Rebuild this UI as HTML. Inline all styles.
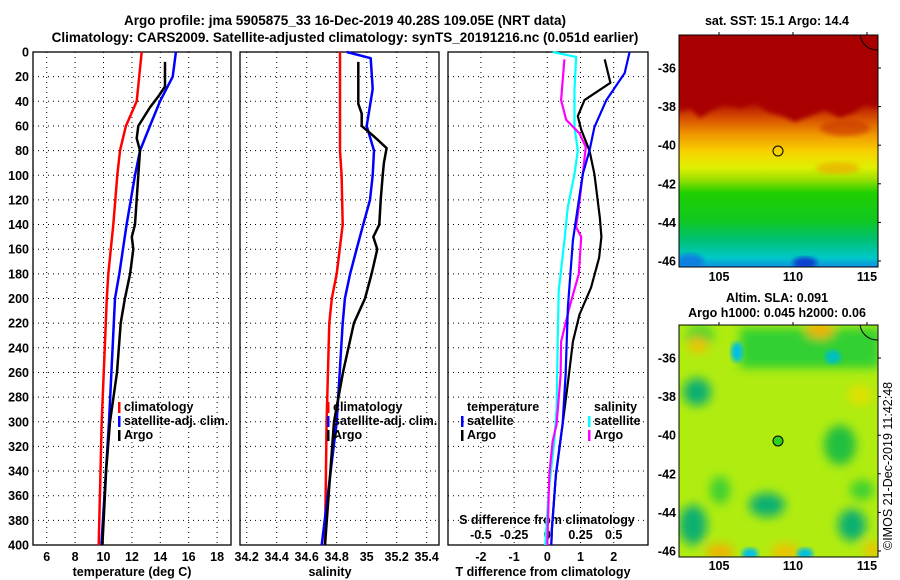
<!DOCTYPE html>
<html><head><meta charset="utf-8"><style>
html,body{margin:0;padding:0;background:#fff;}
svg{display:block;font-family:"Liberation Sans",sans-serif;font-weight:bold;font-size:12.5px;}
</style></head><body>
<svg id="chart" width="900" height="580" viewBox="0 0 900 580" xmlns="http://www.w3.org/2000/svg">
<defs>
<filter id="blur4" x="-50%" y="-50%" width="200%" height="200%"><feGaussianBlur stdDeviation="5"/></filter>
<filter id="blur2"><feGaussianBlur stdDeviation="2.5"/></filter>
<clipPath id="clipTop"><rect x="679" y="35" width="199" height="232"/></clipPath>
<clipPath id="clipBot"><rect x="679" y="325" width="199" height="232"/></clipPath>
<linearGradient id="sstGrad" x1="0" y1="0" x2="0" y2="1">
<stop offset="0" stop-color="#a80000"/><stop offset="0.28" stop-color="#a80000"/>
<stop offset="0.36" stop-color="#d85000"/><stop offset="0.43" stop-color="#f09800"/>
<stop offset="0.5" stop-color="#f8d000"/><stop offset="0.57" stop-color="#e0f000"/>
<stop offset="0.62" stop-color="#a0e000"/><stop offset="0.68" stop-color="#20d000"/>
<stop offset="0.8" stop-color="#10c820"/><stop offset="0.88" stop-color="#00c070"/>
<stop offset="0.96" stop-color="#00c8c8"/><stop offset="1" stop-color="#1090e0"/>
</linearGradient>
</defs>
<g>
<text x="345" y="25" text-anchor="middle" font-size="13.5">Argo profile: jma 5905875_33 16-Dec-2019 40.28S 109.05E (NRT data)</text>
<text x="345" y="42" text-anchor="middle" font-size="13.5">Climatology: CARS2009. Satellite-adjusted climatology: synTS_20191216.nc (0.051d earlier)</text>
</g>
<g id="plots"></g>

<!-- SST map -->
<g>
<text x="777" y="25" text-anchor="middle">sat. SST: 15.1 Argo: 14.4</text>
<g clip-path="url(#clipTop)">
<rect x="679" y="35" width="199" height="232" fill="url(#sstGrad)"/>
<path d="M679,112 L690,108 L700,118 L712,110 L725,104 L740,108 L755,102 L768,112 L782,116 L795,122 L810,116 L825,110 L840,118 L855,112 L865,104 L878,108 L878,35 L679,35 Z" fill="#a80000" filter="url(#blur2)"/>
<ellipse cx="845" cy="128" rx="25" ry="8" fill="#c83000" filter="url(#blur2)" opacity="0.6"/>
<ellipse cx="838" cy="168" rx="22" ry="6" fill="#f0a000" filter="url(#blur2)" opacity="0.6"/>
<ellipse cx="805" cy="263" rx="12" ry="6" fill="#1040d0" filter="url(#blur2)"/>
<ellipse cx="690" cy="262" rx="14" ry="8" fill="#1080e0" filter="url(#blur2)"/>
<circle cx="877" cy="33" r="17" fill="none" stroke="#000"/>
</g>
<rect x="679" y="35" width="199" height="232" fill="none" stroke="#000"/>
<circle cx="778" cy="151" r="5" fill="none" stroke="#000"/>
</g>

<!-- SLA map -->
<g>
<text x="777" y="302" text-anchor="middle">Altim. SLA: 0.091</text>
<text x="777" y="317" text-anchor="middle">Argo h1000: 0.045 h2000: 0.06</text>
<g clip-path="url(#clipBot)">
<rect x="679" y="325" width="199" height="232" fill="#b0ec10"/>
<g filter="url(#blur4)">
<rect x="740" y="328" width="140" height="40" fill="#30d030"/>
<ellipse cx="700" cy="336" rx="14" ry="10" fill="#40d030"/>
<ellipse cx="697" cy="392" rx="14" ry="14" fill="#10b070"/>
<ellipse cx="840" cy="445" rx="16" ry="20" fill="#20c040"/>
<ellipse cx="767" cy="505" rx="18" ry="12" fill="#10b070"/>
<ellipse cx="693" cy="525" rx="14" ry="20" fill="#10b070"/>
<ellipse cx="852" cy="525" rx="14" ry="16" fill="#10b070"/>
<ellipse cx="720" cy="490" rx="10" ry="14" fill="#40d030"/>
<ellipse cx="862" cy="490" rx="12" ry="10" fill="#40d030"/>
<ellipse cx="698" cy="345" rx="10" ry="8" fill="#f0c000"/>
<ellipse cx="820" cy="330" rx="14" ry="8" fill="#f0b000"/>
<ellipse cx="720" cy="552" rx="14" ry="8" fill="#f0b000"/>
<ellipse cx="785" cy="552" rx="14" ry="8" fill="#f0c000"/>
<ellipse cx="872" cy="550" rx="8" ry="8" fill="#f0c000"/>
<ellipse cx="860" cy="395" rx="12" ry="10" fill="#e0e000"/>
</g>
<ellipse cx="737" cy="352" rx="6" ry="10" fill="#00c0e0" filter="url(#blur2)"/>
<ellipse cx="833" cy="357" rx="8" ry="7" fill="#00c0c0" filter="url(#blur2)"/>
<ellipse cx="750" cy="554" rx="8" ry="6" fill="#00c0e0" filter="url(#blur2)"/>
<ellipse cx="805" cy="554" rx="8" ry="6" fill="#00c0e0" filter="url(#blur2)"/>
<circle cx="877" cy="323" r="17" fill="none" stroke="#000"/>
</g>
<rect x="679" y="325" width="199" height="232" fill="none" stroke="#000"/>
<circle cx="778" cy="441" r="5" fill="#30d020" stroke="#000"/>
<text transform="translate(892,550) rotate(-90)" font-weight="normal" font-size="12.5">©IMOS 21-Dec-2019 11:42:48</text>
</g>
<g id="mapaxes"></g>

<script>
// ---- data ----
const depthTicks = [0,20,40,60,80,100,120,140,160,180,200,220,240,260,280,300,320,340,360,380,400];
const tempTicks = [6,8,10,12,14,16,18];
const salTicks = [34.2,34.4,34.6,34.8,35,35.2,35.4];
const salTickLabels = ["34.2","34.4","34.6","34.8","35","35.2","35.4"];
const dtTicks = [-2,-1,0,1,2];
const dsTicks = [-0.5,-0.25,0,0.25,0.5];
const dsTickLabels = ["-0.5","-0.25","0","0.25","0.5"];

const tClimDepth = [0,40,60,80,100,140,180,200,300,400];
const tClimVal   = [12.69,12.34,11.58,11.16,10.97,10.69,10.34,10.23,9.87,9.66];
const tSatDepth  = [0,20,40,60,80,100,140,180,200,300,400];
const tSatVal    = [15.1,14.87,13.98,13.27,12.57,12.22,11.63,11.11,10.81,10.39,9.85];
const tArgoDepth = [8,28,35,45,60,70,80,100,140,150,160,180,200,220,260,300,340,400];
const tArgoVal   = [14.33,14.33,13.93,13.27,12.45,12.34,12.57,12.45,12.22,11.99,12.1,11.87,11.51,11.21,10.95,10.46,10.18,9.92];

const sClimDepth = [0,80,100,140,180,200,220,300,400];
const sClimVal   = [34.822,34.822,34.833,34.84,34.80,34.767,34.751,34.733,34.722];
const sSatDepth  = [0,5,30,60,80,100,120,140,160,180,200,220,300,400];
const sSatVal    = [34.867,35.027,35.04,35.0,35.049,35.04,35.022,34.977,34.933,34.889,34.855,34.84,34.80,34.70];
const sArgoDepth = [8,42,50,60,68,78,90,100,120,140,150,160,180,200,220,260,300,400];
const sArgoVal   = [34.944,34.944,34.967,34.967,35.044,35.133,35.115,35.107,35.093,35.084,35.044,35.071,35.033,34.989,34.915,34.842,34.782,34.722];

const dtSatDepth = [0,17,39,61,80,99,126,153,207,262,302,343,387,400];
const dtSatVal   = [2.48,2.33,1.78,1.42,1.27,1.07,0.92,0.77,0.62,0.55,0.46,0.26,0.14,0.12];
const dtArgoDepth = [6,25,39,52,63,80,99,134,150,167,191,213,235,262,302,343,387,400];
const dtArgoVal   = [1.73,1.9,1.12,0.92,1.02,1.27,1.42,1.58,1.63,1.56,1.32,0.97,0.77,0.65,0.46,0.26,0.14,0.12];
const dsSatDepth = [0,4,31,61,80,99,126,153,194,235,289,316,357,400];
const dsSatVal   = [0.04,0.217,0.205,0.205,0.23,0.205,0.154,0.129,0.086,0.078,0.07,0.053,0.01,-0.015];
const dsArgoDepth = [6,39,55,66,77,99,126,142,150,180,207,235,262,302,316,343,400];
const dsArgoVal   = [0.129,0.104,0.142,0.242,0.29,0.267,0.237,0.217,0.255,0.237,0.167,0.104,0.1,0.07,0.04,0.015,0.0];

const lonTicks = [105,110,115];
const latTicks = [-36,-38,-40,-42,-44,-46];

// ---- scales ----
const NS = "http://www.w3.org/2000/svg";
const Y0 = 52, YB = 545;
const yD = d => Y0 + d * (YB - Y0) / 400;
const xT = t => 46.7 + (t - 6) * 14.2;
const xS = s => 246.7 + (s - 34.2) * 150;
const xDT = v => 547.3 + v * 33.2;
const xDS = v => 547.3 + v * 132.8;
const xLon = l => 719 + (l - 105) * 14.8;
const yLatTop = l => 68 + (-36 - l) * 19.3;
const yLatBot = l => 358 + (-36 - l) * 19.3;

const plots = document.getElementById('plots');
function mk(tag, attrs, parent, txt) {
  const e = document.createElementNS(NS, tag);
  for (const k in attrs) e.setAttribute(k, attrs[k]);
  if (txt !== undefined) e.textContent = txt;
  (parent || plots).appendChild(e);
  return e;
}

const panels = [
  {name:'temperature-panel', x0:33, x1:231, ticks:tempTicks, labels:tempTicks.map(String), sx:xT, title:'temperature (deg C)', tx:132},
  {name:'salinity-panel', x0:240, x1:439, ticks:salTicks, labels:salTickLabels, sx:xS, title:'salinity', tx:330},
  {name:'difference-panel', x0:448, x1:648, ticks:dtTicks, labels:dtTicks.map(String), sx:xDT, title:'T difference from climatology', tx:543}
];
panels.forEach((p, i) => {
  const g = mk('g', {});
  
  
  depthTicks.forEach(d => {
    const l = mk('line', {x1:p.x0, x2:p.x1, y1:yD(d), y2:yD(d), stroke:'#000', 'stroke-width':1, 'stroke-dasharray':'1 4'}, g);
    
    
  });
  p.ticks.forEach((t, k) => {
    const x = p.sx(t);
    const l = mk('line', {x1:x, x2:x, y1:Y0, y2:YB, stroke:'#000', 'stroke-width':1, 'stroke-dasharray':'1 4'}, g);
    
    
    const tl = mk('text', {x:x, y:561, 'text-anchor':'middle'}, g, p.labels[k]);
    
    
  });
  const fr = mk('rect', {x:p.x0, y:Y0, width:p.x1-p.x0, height:YB-Y0, fill:'none', stroke:'#000', 'stroke-width':1.3}, g);
  
  
  const tt = mk('text', {x:p.tx, y:576, 'text-anchor':'middle'}, g, p.title);
  
  
});
depthTicks.forEach(d => {
  const t = mk('text', {x:29, y:yD(d)+4.5, 'text-anchor':'end'}, plots, String(d));
  
  
});
const sg = mk('g', {});


dsTicks.forEach((v, k) => {
  const t = mk('text', {x:xDS(v), y:539, 'text-anchor':'middle'}, sg, dsTickLabels[k]);
  
  
});
const st = mk('text', {x:547, y:524, 'text-anchor':'middle'}, sg, 'S difference from climatology');



function series(name, depths, vals, sx, color, w) {
  const pts = depths.map((d, i) => sx(vals[i]).toFixed(1) + ',' + yD(d).toFixed(1)).join(' ');
  const pl = mk('polyline', {points:pts, fill:'none', stroke:color, 'stroke-width':w, 'stroke-linejoin':'round'});
  
  
}
series('temp-climatology-line', tClimDepth, tClimVal, xT, '#ff0000', 2.5);
series('temp-satellite-line', tSatDepth, tSatVal, xT, '#0000ff', 2.5);
series('temp-argo-line', tArgoDepth, tArgoVal, xT, '#000', 2.5);
series('sal-climatology-line', sClimDepth, sClimVal, xS, '#ff0000', 2.5);
series('sal-satellite-line', sSatDepth, sSatVal, xS, '#0000ff', 2.5);
series('sal-argo-line', sArgoDepth, sArgoVal, xS, '#000', 2.5);
series('ds-satellite-line', dsSatDepth, dsSatVal, xDS, '#00ffff', 2.2);
series('ds-argo-line', dsArgoDepth, dsArgoVal, xDS, '#ff00ff', 2.2);
series('dt-argo-line', dtArgoDepth, dtArgoVal, xDT, '#000', 2.2);
series('dt-satellite-line', dtSatDepth, dtSatVal, xDT, '#0000ff', 2.2);

function legend(name, x, y, items) {
  const g = mk('g', {});
  
  
  items.forEach((it, i) => {
    const yy = y + i * 14;
    if (it[1]) {
      const m = mk('rect', {x:x, y:yy-9, width:2.5, height:11, fill:it[1]}, g);
      
      
    }
    const t = mk('text', {x:x+6, y:yy}, g, it[0]);
    
    
  });
}
legend('temperature-legend', 118, 411, [['climatology','#f00'],['satellite-adj. clim.','#00f'],['Argo','#000']]);
legend('salinity-legend', 327, 411, [['climatology','#f00'],['satellite-adj. clim.','#00f'],['Argo','#000']]);
legend('t-diff-legend', 461, 411, [['temperature',null],['satellite','#00f'],['Argo','#000']]);
legend('s-diff-legend', 588, 411, [['salinity',null],['satellite','#0ff'],['Argo','#f0f']]);

const ma = document.getElementById('mapaxes');
[[yLatTop, 281], [yLatBot, 570]].forEach(([yf, ly], mi) => {
  lonTicks.forEach(l => {
    const t = mk('text', {x:xLon(l), y:ly, 'text-anchor':'middle'}, ma, String(l));
    
    
    const top = mi === 0 ? 35 : 325;
    mk('line', {x1:xLon(l), x2:xLon(l), y1:top-3, y2:top, stroke:'#000'}, ma);
  });
  latTicks.forEach(l => {
    const t = mk('text', {x:676, y:yf(l)+4.5, 'text-anchor':'end'}, ma, String(l));
    
    
    mk('line', {x1:878, x2:881, y1:yf(l), y2:yf(l), stroke:'#000'}, ma);
  });
});
</script>
</svg>
</body></html>
